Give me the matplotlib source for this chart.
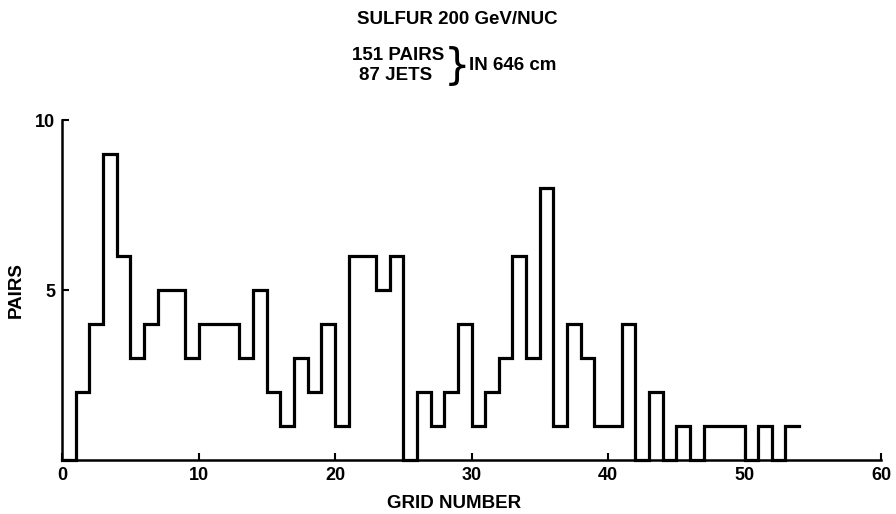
import numpy as np
import matplotlib
matplotlib.use("Agg")
import matplotlib.pyplot as plt

# Pairs per grid number (bins of width 1 starting at grid 0)
grid_start = list(range(0, 54))
pairs = [0, 2, 4, 9, 6, 3, 4, 5, 5, 3,
         4, 4, 4, 3, 5, 2, 1, 3, 2, 4,
         1, 6, 6, 5, 6, 0, 2, 1, 2, 4,
         1, 2, 3, 6, 3, 8, 1, 4, 3, 1,
         1, 4, 0, 2, 0, 1, 0, 1, 1, 1,
         0, 1, 0, 1]
xticks = [0, 10, 20, 30, 40, 50, 60]
yticks = [0, 5, 10]
ytick_labels = ["", "5", "10"]

plt.rcParams['font.family'] = ['Liberation Sans', 'DejaVu Sans']
FW = 'bold'
FS = 13.5

fig = plt.figure(figsize=(8.96, 5.14), dpi=100)
ax = fig.add_axes([62/896, 1-460/514, (881-62)/896, (460-120)/514])

x = list(grid_start) + [grid_start[-1] + 1]
y = list(pairs) + [pairs[-1]]
ax.step(x, y, where='post', color='black', lw=2.3, clip_on=False,
        solid_joinstyle='miter')

ax.set_xlim(0, 60)
ax.set_ylim(0, 10)
for s in ['top', 'right']:
    ax.spines[s].set_visible(False)
for s in ['left', 'bottom']:
    ax.spines[s].set_linewidth(1.8)

ax.set_xticks(xticks)
ax.set_xticklabels([str(t) for t in xticks])
ax.set_yticks(yticks)
ax.set_yticklabels(ytick_labels)
ax.tick_params(axis='both', direction='in', length=5, width=1.5,
               labelsize=13, pad=5)
for lab in ax.get_xticklabels() + ax.get_yticklabels():
    lab.set_fontweight(FW)
ax.get_xticklabels()[0].set_x(-0.6)

fig.text(16/896, 1-290/514, "PAIRS", rotation=90, ha='center', va='center',
         fontsize=FS, fontweight=FW)
fig.text(454/896, 1-503/514, "GRID NUMBER", ha='center', va='center',
         fontsize=FS, fontweight=FW)

fig.text(457/896, 1-20/514, "SULFUR 200 GeV/NUC", ha='center', va='center',
         fontsize=FS, fontweight=FW)
fig.text(398/896, 1-55/514, "151 PAIRS", ha='center', va='center',
         fontsize=FS, fontweight=FW)
fig.text(396/896, 1-75/514, "87 JETS", ha='center', va='center',
         fontsize=FS, fontweight=FW)
fig.text(457/896, 1-67/514, "}", ha='center', va='center',
         fontsize=30, fontweight='normal', family=['DejaVu Sans'])
fig.text(469/896, 1-65/514, "IN 646 cm", ha='left', va='center',
         fontsize=FS, fontweight=FW)

fig.savefig("out.png", dpi=100)
